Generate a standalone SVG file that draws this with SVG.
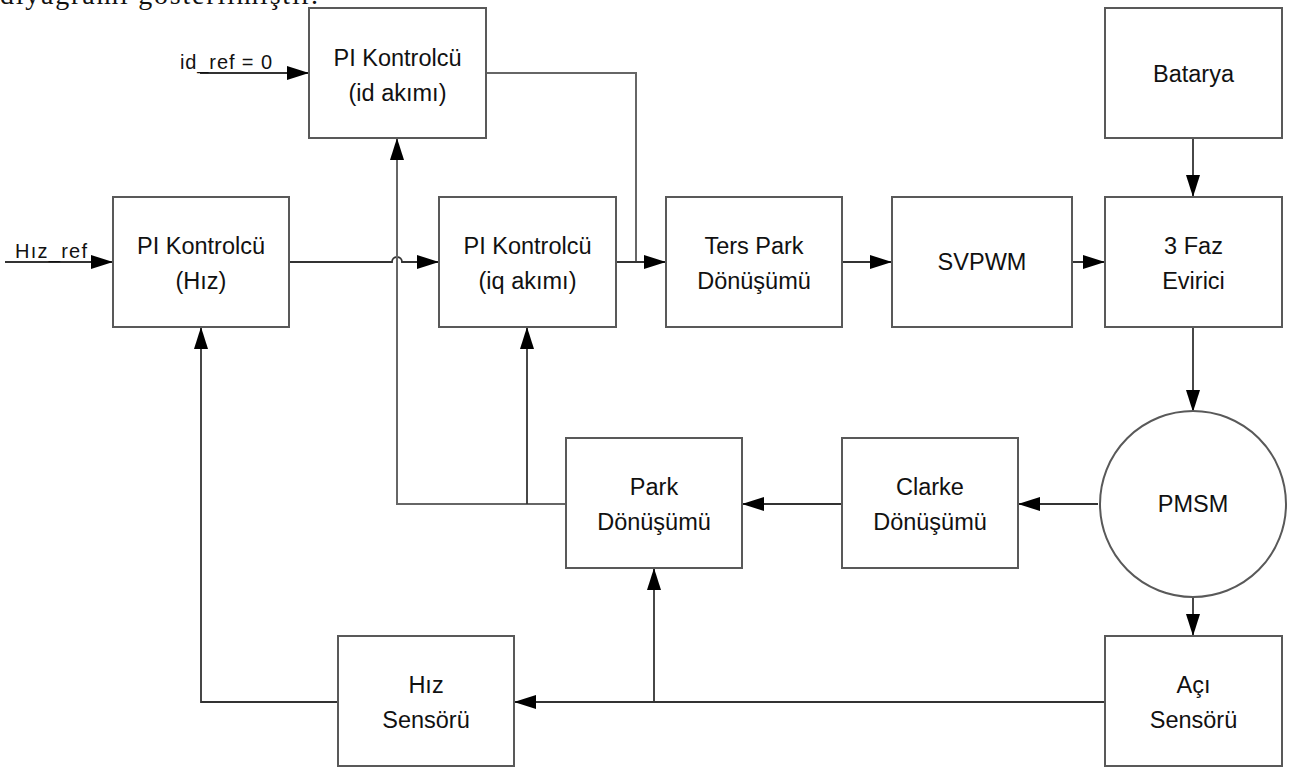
<svg xmlns="http://www.w3.org/2000/svg" width="1291" height="769" viewBox="0 0 1291 769">
<defs>
<style>
.box{fill:#fff;stroke:#595959;stroke-width:2}
.lbl{font-family:"Liberation Sans",Arial,sans-serif;font-size:23.5px;fill:#111;text-anchor:middle}
.sm{font-family:"Liberation Sans",Arial,sans-serif;font-size:20px;fill:#111}
.ln{fill:none;stroke:#333;stroke-width:1.8}
.lg{fill:none;stroke:#666;stroke-width:2}
</style>
<marker id="ah" viewBox="0 0 22 14" refX="22" refY="7" markerWidth="22" markerHeight="15" markerUnits="userSpaceOnUse" orient="auto">
<path d="M0,0 L22,7 L0,14 Z" fill="#000"/>
</marker>
</defs>
<rect width="1291" height="769" fill="#fff"/>
<text x="0" y="4" font-family="Liberation Serif,Times New Roman,serif" font-size="28" textLength="318" fill="#111">diyagramı gösterilmiştir.</text>

<g id="connectors">
<path class="ln" d="M200,73 H309" marker-end="url(#ah)"/>
<path class="ln" d="M5,262 H113" marker-end="url(#ah)"/>
<path class="ln" d="M289,262 H392 A5,5 0 0 1 402,262 H439" marker-end="url(#ah)"/>
<path class="lg" d="M486,73 H636 V262"/>
<path class="ln" d="M616,262 H666" marker-end="url(#ah)"/>
<path class="ln" d="M842,262 H892" marker-end="url(#ah)"/>
<path class="ln" d="M1072,262 H1105" marker-end="url(#ah)"/>
<path class="ln" d="M1193,138 V197" marker-end="url(#ah)"/>
<path class="ln" d="M1193,327 V412" marker-end="url(#ah)"/>
<path class="ln" d="M1098,504 H1018" marker-end="url(#ah)"/>
<path class="ln" d="M842,504 H742" marker-end="url(#ah)"/>
<path class="lg" d="M566,504 H397 V138" marker-end="url(#ah)"/>
<path class="ln" d="M527,504 V327" marker-end="url(#ah)"/>
<path class="ln" d="M1193,597 V636" marker-end="url(#ah)"/>
<path class="ln" d="M1105,702 H514" marker-end="url(#ah)"/>
<path class="ln" d="M654,702 V568" marker-end="url(#ah)"/>
<path class="ln" d="M338,702 H201 V327" marker-end="url(#ah)"/>
<text class="sm" x="180" y="69" textLength="92">id_ref = 0</text>
<text class="sm" x="15" y="258" textLength="72">Hız_ref</text>
</g>

<g id="pi-id"><rect class="box" x="309" y="8" width="177" height="130"/>
<text class="lbl" x="397.5" y="66">PI Kontrolcü</text><text class="lbl" x="397.5" y="101">(id akımı)</text></g>
<g id="batarya"><rect class="box" x="1105" y="8" width="177" height="130"/>
<text class="lbl" x="1193.5" y="82">Batarya</text></g>
<g id="pi-hiz"><rect class="box" x="113" y="197" width="176" height="130"/>
<text class="lbl" x="201" y="254">PI Kontrolcü</text><text class="lbl" x="201" y="289">(Hız)</text></g>
<g id="pi-iq"><rect class="box" x="439" y="197" width="177" height="130"/>
<text class="lbl" x="527.5" y="254">PI Kontrolcü</text><text class="lbl" x="527.5" y="289">(iq akımı)</text></g>
<g id="ters-park"><rect class="box" x="666" y="197" width="176" height="130"/>
<text class="lbl" x="754" y="254">Ters Park</text><text class="lbl" x="754" y="289">Dönüşümü</text></g>
<g id="svpwm"><rect class="box" x="892" y="197" width="180" height="130"/>
<text class="lbl" x="982" y="270">SVPWM</text></g>
<g id="evirici"><rect class="box" x="1105" y="197" width="177" height="130"/>
<text class="lbl" x="1193.5" y="254">3 Faz</text><text class="lbl" x="1193.5" y="289">Evirici</text></g>
<g id="pmsm"><circle class="box" cx="1193" cy="504" r="93" stroke-width="1.5"/>
<text class="lbl" x="1193" y="512">PMSM</text></g>
<g id="clarke"><rect class="box" x="842" y="438" width="176" height="130"/>
<text class="lbl" x="930" y="495">Clarke</text><text class="lbl" x="930" y="530">Dönüşümü</text></g>
<g id="park"><rect class="box" x="566" y="438" width="176" height="130"/>
<text class="lbl" x="654" y="495">Park</text><text class="lbl" x="654" y="530">Dönüşümü</text></g>
<g id="hiz-sensoru"><rect class="box" x="338" y="636" width="176" height="130"/>
<text class="lbl" x="426" y="693">Hız</text><text class="lbl" x="426" y="728">Sensörü</text></g>
<g id="aci-sensoru"><rect class="box" x="1105" y="636" width="177" height="130"/>
<text class="lbl" x="1193.5" y="693">Açı</text><text class="lbl" x="1193.5" y="728">Sensörü</text></g>
</svg>
